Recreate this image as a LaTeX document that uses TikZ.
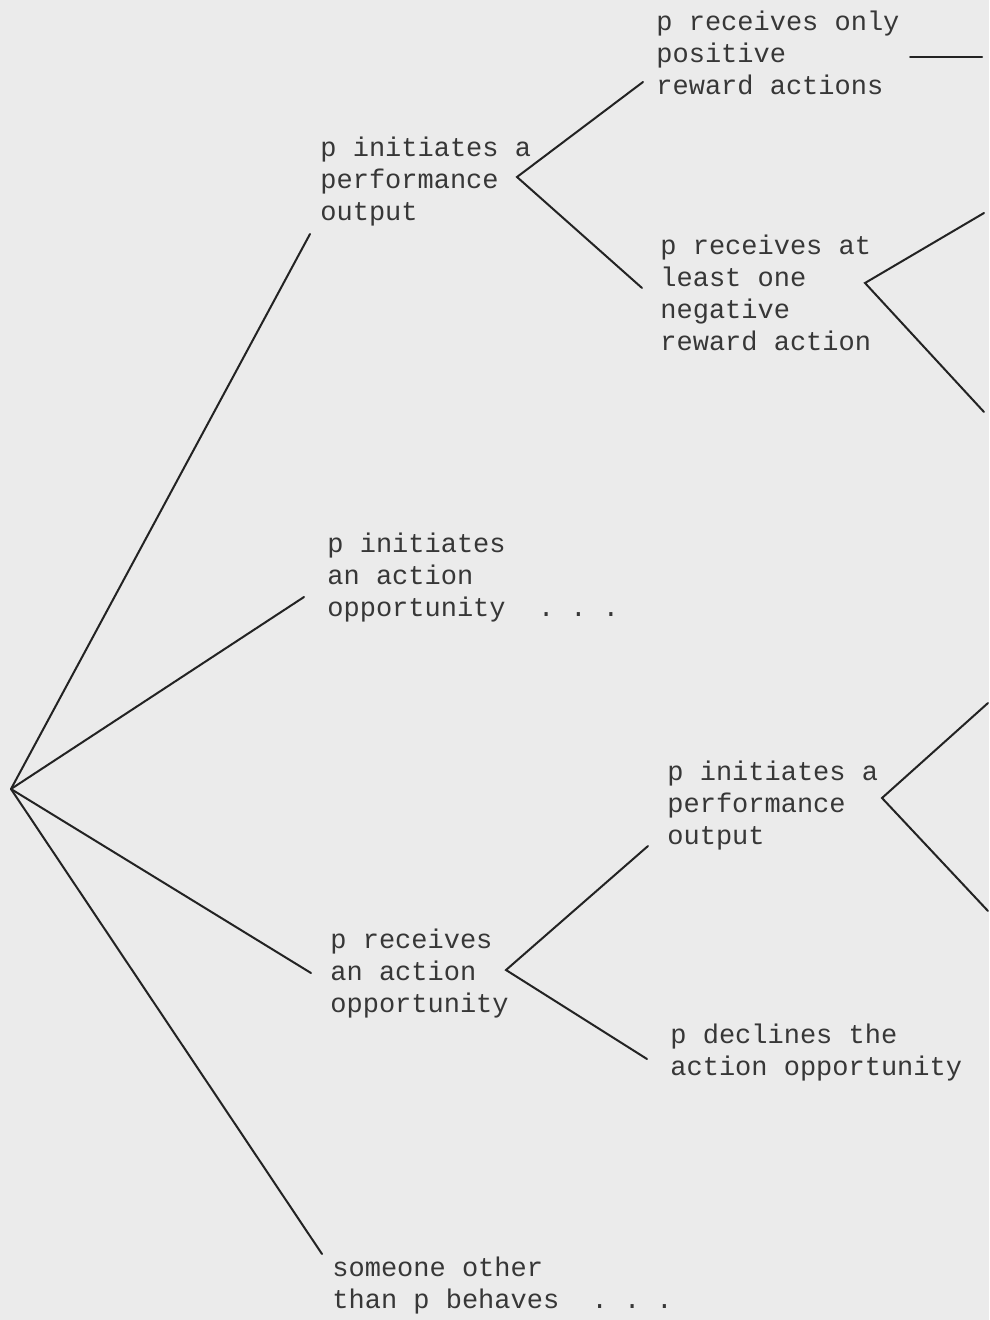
\documentclass[tikz,border=0pt]{standalone}
\usepackage{fontspec}
\setmonofont{Liberation Mono}
\usepackage{tikz}
\definecolor{paper}{RGB}{235,235,235}
\definecolor{ink}{RGB}{55,55,55}
\definecolor{pen}{RGB}{35,35,35}
\tikzset{
  lbl/.style={anchor=west, inner sep=0pt, align=left, text=ink,
    font=\ttfamily\fontsize{13.5}{16}\selectfont},
  branch/.style={pen, line width=1pt, line cap=round}
}

\begin{document}
\begin{tikzpicture}[x=0.5pt, y=-0.5pt]
  \fill[paper] (0,0) rectangle (989,1320);
  \useasboundingbox (0,0) rectangle (989,1320);

  \node[lbl] (perf) at (320,182) {p initiates a\\performance\\output};
  \node[lbl] (posrew) at (656,53) {p receives only\\positive\\reward actions};
  \node[lbl] (negrew) at (660,293) {p receives at\\least one\\negative\\reward action};
  \node[lbl] (initopp) at (327,578) {p initiates\\an action\\opportunity~~.~.~.};
  \node[lbl] (perftwo) at (667,806) {p initiates a\\performance\\output};
  \node[lbl] (recopp) at (330,974) {p receives\\an action\\opportunity};
  \node[lbl] (decline) at (670,1053) {p declines the\\action opportunity};
  \node[lbl] (other) at (332,1286) {someone other\\than p behaves~~.~.~.};

  \coordinate (root) at (11,789);
  \coordinate (perf in) at (310,234);
  \coordinate (initopp in) at (304,597);
  \coordinate (recopp in) at (311,973);
  \coordinate (other in) at (322,1254);
  \coordinate (perf fork) at (517,177);
  \coordinate (posrew in) at (643,82);
  \coordinate (negrew in) at (642,288);
  \coordinate (posrew out) at (910,57);
  \coordinate (posrew end) at (982,57);
  \coordinate (negrew fork) at (865,283);
  \coordinate (negrew up) at (984,213);
  \coordinate (negrew down) at (984,412);
  \coordinate (perftwo fork) at (882,798);
  \coordinate (perftwo up) at (988,703);
  \coordinate (perftwo down) at (988,911);
  \coordinate (recopp fork) at (506,970);
  \coordinate (perftwo in) at (648,846);
  \coordinate (decline in) at (647,1059);

  \draw[branch] (root) -- (perf in);
  \draw[branch] (root) -- (initopp in);
  \draw[branch] (root) -- (recopp in);
  \draw[branch] (root) -- (other in);
  \draw[branch] (posrew in) -- (perf fork) -- (negrew in);
  \draw[branch] (posrew out) -- (posrew end);
  \draw[branch] (negrew up) -- (negrew fork) -- (negrew down);
  \draw[branch] (perftwo up) -- (perftwo fork) -- (perftwo down);
  \draw[branch] (perftwo in) -- (recopp fork) -- (decline in);
\end{tikzpicture}
\end{document}
